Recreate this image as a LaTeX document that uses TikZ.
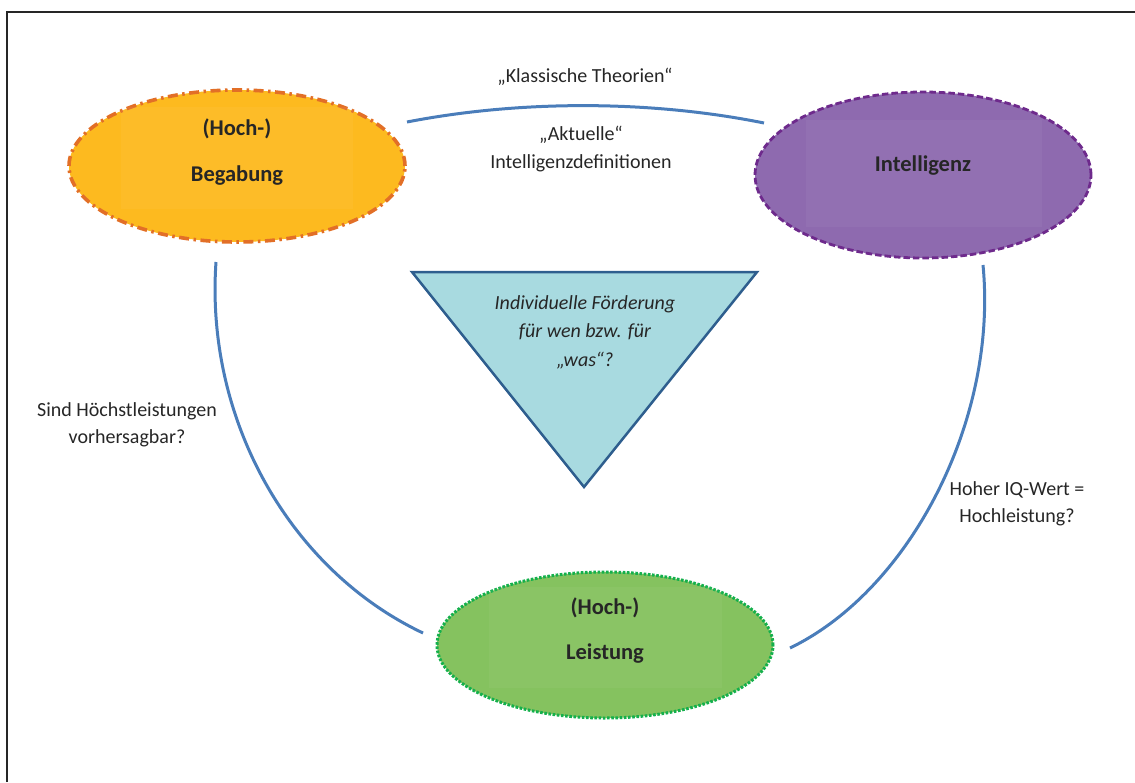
\documentclass[tikz,border=0pt]{standalone}
\usepackage{fontspec}
\setmainfont{Carlito}
\begin{document}
\begin{tikzpicture}[x=1pt,y=-1pt,
  txt/.style={text=textgray,font=\fontsize{20}{27.5}\selectfont,align=center,inner sep=0pt},
  bold/.style={txt,font=\fontsize{22.5}{27}\selectfont\bfseries},
  bubble/.style={ellipse,inner sep=0pt,minimum width=336pt},
  shine/.style={fill=white,fill opacity=0.045,draw=none},
  link/.style={draw=linkblue,line width=3pt}]
\usetikzlibrary{shapes.geometric}
\definecolor{textgray}{HTML}{262626}
\definecolor{linkblue}{HTML}{4A7DBA}
\definecolor{begfill}{HTML}{FDBA1F}
\definecolor{begline}{HTML}{E26F27}
\definecolor{intfill}{HTML}{8E6AAF}
\definecolor{intline}{HTML}{6E2A8C}
\definecolor{leifill}{HTML}{85C25F}
\definecolor{leiline}{HTML}{14B04C}
\definecolor{trifill}{HTML}{A8DAE0}
\definecolor{triline}{HTML}{2E5E8E}
\useasboundingbox (0,0) rectangle (1135,782);

% frame
\draw[line width=1.4pt,draw=textgray] (7,782) -- (7,12) -- (1135,12);

% three ellipses
\node[bubble,minimum height=152pt,fill=begfill,draw=begline,line width=3.6pt,
  dash pattern=on 10pt off 4.5pt on 2.5pt off 4.5pt] (beg) at (237,166) {};
\node[bubble,minimum height=166pt,fill=intfill,draw=intline,line width=2.8pt,
  dash pattern=on 6.5pt off 3pt] (int) at (923,175) {};
\node[bubble,minimum height=146pt,fill=leifill,draw=leiline,line width=3pt,
  dash pattern=on 2.6pt off 1.6pt] (lei) at (605,645) {};

% lighter text boxes inside the ellipses
\fill[shine] (121,107) rectangle (353,209);
\fill[shine] (806,120) rectangle (1042,227);
\fill[shine] (489,587) rectangle (722,688);

\node[bold] (begA) at (237,129) {(Hoch-)};
\node[bold] (begB) at (237,176) {Begabung};
\node[bold] (intA) at (923,166) {Intelligenz};
\node[bold] (leiA) at (605,608) {(Hoch-)};
\node[bold] (leiB) at (605,654) {Leistung};

% central triangle
\coordinate (tl) at (412,272);
\coordinate (tr) at (757,272);
\coordinate (tb) at (584,487);
\draw[fill=trifill,draw=triline,line width=2.5pt,line join=miter] (tl) -- (tr) -- (tb) -- cycle;
\node[txt,font=\fontsize{20}{28.5}\selectfont\itshape] (tri) at (585,332)
  {Individuelle Förderung\\für wen bzw. für\\„was“?};

% connectors
\coordinate (c1a) at (407,122);
\coordinate (c1b) at (764,123);
\coordinate (c2a) at (216,262);
\coordinate (c2b) at (423,633);
\coordinate (c3a) at (983,265);
\coordinate (c3b) at (790,648);
\draw[link] (c1a) .. controls (520,100) and (650,100) .. (c1b);
\draw[link] (c2a) .. controls (205,420) and (290,570) .. (c2b);
\draw[link] (c3a) .. controls (998,420) and (910,590) .. (c3b);

% connector labels
\node[txt] (l1) at (585,77) {„Klassische Theorien“};
\node[txt] (l2) at (581,149) {„Aktuelle“\\Intelligenzdefinitionen};
\node[txt] (l3) at (127,425) {Sind Höchstleistungen\\vorhersagbar?};
\node[txt] (l4) at (1017,504) {Hoher IQ-Wert =\\Hochleistung?};
\end{tikzpicture}
\end{document}
